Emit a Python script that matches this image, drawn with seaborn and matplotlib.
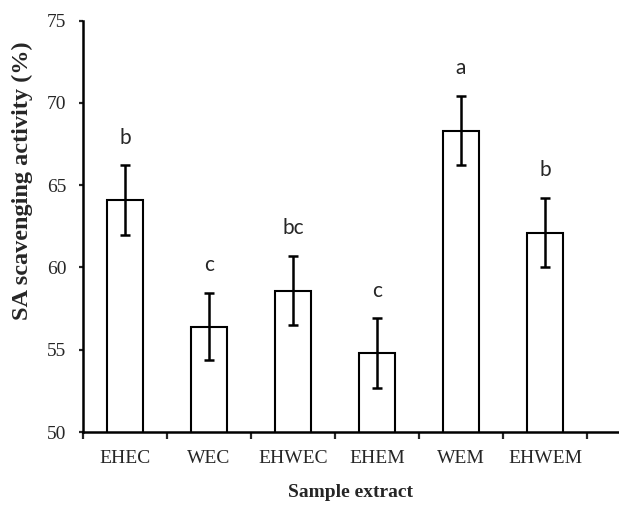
import pandas as pd
import matplotlib.pyplot as plt
import seaborn as sns

samples = ['EHEC', 'WEC', 'EHWEC', 'EHEM', 'WEM', 'EHWEM']
activity = [64.1, 56.4, 58.6, 54.8, 68.3, 62.1]
errors = [2.1, 2.05, 2.1, 2.1, 2.1, 2.1]
letters = ['b', 'c', 'bc', 'c', 'a', 'b']

df = pd.DataFrame({'sample': samples, 'activity': activity})

sns.set_style('white')
plt.rcParams['font.family'] = ['Liberation Serif', 'DejaVu Serif']

fig = plt.figure(figsize=(6.19, 5.08), dpi=100)
ax = fig.add_axes([0.134, 0.1496, 0.866, 0.8096])

sns.barplot(x='sample', y='activity', data=df, ax=ax, color='white',
            edgecolor='black', linewidth=1.5, width=0.43, errorbar=None)
ax.errorbar(range(len(samples)), activity, yerr=errors, fmt='none',
            ecolor='black', elinewidth=1.8, capsize=3.5, capthick=1.8)

# significance letters above the error bars
for i, (v, e, l) in enumerate(zip(activity, errors, letters)):
    ax.text(i, v + e + 1.7, l, ha='center', va='center', fontsize=15,
            family=['Lato', 'DejaVu Sans'])

ax.set_ylim(50, 75)
ax.set_yticks([50, 55, 60, 65, 70, 75])
ax.set_xlim(-0.5, 5.88)
ax.set_xticks([i - 0.5 for i in range(7)], minor=True)

ax.tick_params(axis='x', which='major', length=0, pad=13, labelsize=14)
ax.tick_params(axis='x', which='minor', length=5, width=1.6, direction='out', bottom=True)
ax.tick_params(axis='y', length=3, width=1.6, direction='out', pad=9, labelsize=14, left=True)

for s in ['top', 'right']:
    ax.spines[s].set_visible(False)
for s in ['left', 'bottom']:
    ax.spines[s].set_color('black')
    ax.spines[s].set_linewidth(1.8)

ax.set_xlabel('Sample extract', fontsize=14, fontweight='bold', labelpad=12)
ax.set_ylabel('SA scavenging activity (%)', fontsize=17.5, fontweight='bold')
ax.yaxis.set_label_coords(-0.093, 0.61)

fig.savefig('out.png', dpi=100)
